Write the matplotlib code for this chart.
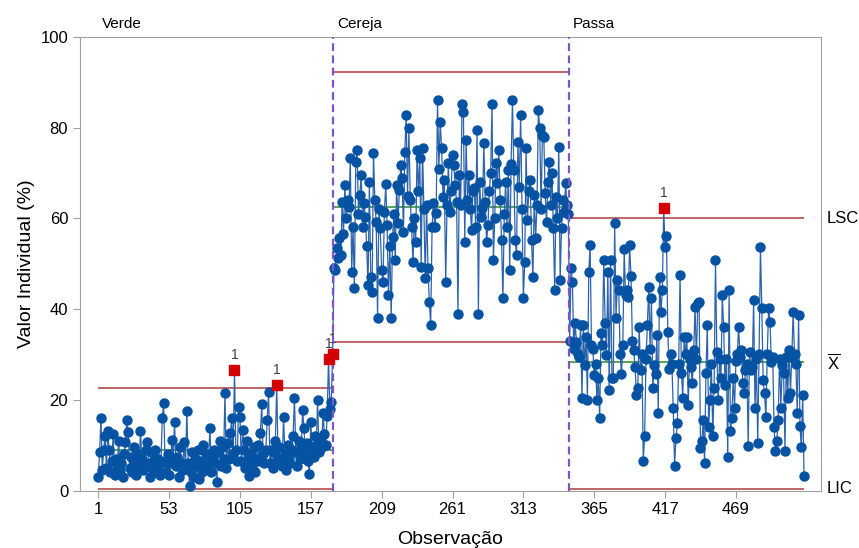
import matplotlib
matplotlib.use("Agg")
import matplotlib.pyplot as plt
import numpy as np

stages = ["Verde", "Cereja", "Passa"]
center = [9.0, 62.5, 28.3]
lsc = [22.7, 92.3, 60.0]
lic = [0.4, 32.7, 0.4]

verde = [
    3.0, 8.5, 16.0, 4.5, 9.0, 12.0, 5.0, 13.2, 9.0, 4.0, 6.5, 12.5, 3.5, 7.0, 5.5, 11.0, 4.5, 6.0, 3.0, 8.0,
    10.8, 15.6, 13.0, 5.0, 7.5, 4.0, 9.5, 6.0, 3.5, 8.0, 5.0, 13.2, 7.0, 4.5, 6.0, 9.0, 10.8, 5.5, 3.0, 8.5,
    6.5, 4.0, 9.0, 5.0, 7.0, 3.5, 6.0, 16.0, 19.2, 6.5, 4.0, 8.0, 3.5, 6.0, 11.2, 7.0, 15.0, 5.5, 7.5, 3.0,
    9.5, 6.0, 4.5, 10.6, 5.0, 17.6, 6.0, 1.1, 4.0, 8.5, 3.0, 7.0, 5.5, 9.0, 2.5, 6.5, 4.0, 10.0, 5.5, 8.0,
    6.0, 7.5, 13.7, 4.0, 7.5, 9.0, 6.0, 1.8, 8.5, 11.0, 5.5, 9.5, 7.0, 21.6, 5.0, 10.5, 7.0, 12.6, 15.9, 8.0,
    26.5, 9.0, 6.5, 18.5, 16.1, 6.5, 13.4, 9.0, 5.0, 11.0, 7.0, 3.3, 8.0, 5.5, 9.5, 4.0, 7.0, 10.0, 6.5, 12.6,
    19.0, 8.0, 6.0, 9.0, 15.5, 21.8, 6.0, 9.0, 5.0, 8.5, 11.0, 23.3, 7.0, 9.5, 6.0, 5.5, 16.3, 8.0, 4.5, 10.0,
    7.5, 6.0, 9.0, 12.0, 20.5, 8.5, 5.5, 11.0, 7.0, 9.5, 17.7, 13.7, 8.0, 10.5, 6.5, 3.7, 15.0, 9.0, 7.5, 12.0,
    10.0, 19.9, 8.5, 11.5, 9.5, 17.2, 12.5, 10.0, 16.5, 29.0, 18.0, 19.5, 30.0,
]

cereja = [
    49.0, 48.6, 53.4, 51.2, 55.6, 52.0, 63.6, 56.5, 67.3, 60.0, 64.0, 62.5, 73.3, 48.1, 58.0, 44.6, 72.4, 75.0, 61.0, 65.1,
    69.5, 58.0, 63.4, 60.3, 54.0, 45.3, 68.0, 47.0, 43.7, 74.4, 64.0, 59.2, 38.0, 62.0, 57.8, 48.6, 45.9, 61.4, 67.5, 58.5,
    43.0, 54.0, 38.0, 56.0, 61.0, 50.8, 67.3, 59.0, 66.2, 71.7, 68.9, 57.0, 74.6, 82.8, 65.0, 79.9, 64.0, 58.0, 50.3, 60.0,
    54.7, 75.0, 66.0, 73.3, 49.2, 75.5, 62.0, 46.8, 63.0, 49.0, 41.5, 36.4, 58.0, 63.4, 58.0, 61.1, 86.1, 71.0, 81.2, 75.5,
    64.7, 68.4, 45.9, 63.0, 72.2, 61.4, 66.0, 74.0, 71.7, 67.3, 63.6, 39.0, 69.5, 63.0, 85.2, 83.4, 54.7, 77.3, 64.0, 69.5,
    62.0, 57.4, 66.0, 66.7, 58.0, 79.5, 39.0, 68.0, 60.3, 62.3, 76.6, 63.6, 54.7, 58.5, 66.0, 70.0, 85.2, 50.8, 60.0, 72.2,
    67.8, 75.0, 64.0, 55.2, 42.4, 61.0, 68.0, 58.0, 70.6, 48.6, 72.0, 86.1, 70.6, 55.2, 51.9, 76.8, 67.0, 82.8, 62.0, 42.4,
    50.3, 75.5, 59.6, 66.0, 68.4, 55.2, 47.0, 65.1, 55.6, 63.0, 83.9, 79.9, 62.0, 78.4, 78.0, 65.6, 59.2, 68.0, 72.4, 63.0,
    70.0, 57.8, 44.2, 64.7, 60.0, 75.7, 46.4, 57.8, 64.0, 61.4, 67.8, 63.0, 61.0,
]

passa = [
    33.0, 49.0, 45.9, 31.3, 36.9, 32.7, 30.0, 29.4, 36.4, 20.5, 36.4, 27.6, 33.8, 19.9, 48.1, 54.1, 32.0, 31.3, 25.4, 28.0,
    19.9, 24.9, 15.9, 34.7, 32.0, 50.8, 36.9, 29.8, 48.1, 22.1, 50.8, 24.9, 24.7, 58.9, 38.0, 46.4, 44.2, 30.2, 25.8, 32.0,
    53.2, 43.0, 44.2, 42.6, 54.1, 47.2, 33.0, 30.9, 27.2, 21.0, 22.7, 36.0, 26.5, 30.0, 6.6, 12.1, 29.0, 36.4, 44.8, 31.3,
    42.4, 22.5, 27.6, 25.8, 34.2, 17.2, 47.0, 39.3, 44.2, 62.3, 53.6, 56.1, 34.9, 26.9, 30.2, 28.0, 18.1, 5.5, 11.5, 14.8,
    28.0, 47.5, 26.0, 20.5, 33.8, 30.0, 33.8, 18.8, 29.0, 27.2, 23.6, 30.9, 40.4, 29.0, 41.3, 41.5, 9.3, 11.0, 15.5, 6.0,
    26.0, 36.4, 13.9, 19.9, 28.0, 12.1, 22.7, 50.8, 30.5, 19.9, 29.0, 24.9, 43.0, 36.0, 23.2, 29.0, 7.3, 44.2, 13.2, 15.9,
    24.7, 18.3, 28.5, 30.2, 36.0, 29.4, 31.0, 23.8, 21.4, 26.5, 28.0, 9.9, 30.5, 26.5, 27.2, 41.9, 18.3, 29.0, 10.4, 30.2,
    53.6, 40.2, 24.3, 21.4, 16.1, 30.0, 40.2, 37.1, 28.3, 29.4, 13.9, 8.8, 11.0, 15.5, 29.0, 18.3, 27.6, 26.0, 8.8, 29.5,
    20.5, 31.0, 21.6, 29.4, 39.3, 30.0, 28.0, 17.0, 38.6, 14.3, 9.5, 21.0, 3.3,
]

xticks = [1, 53, 105, 157, 209, 261, 313, 365, 417, 469]


def plot_chart(groups):
    plt.rcParams['font.family'] = ['Liberation Sans', 'DejaVu Sans']
    plt.rcParams['mathtext.fontset'] = 'custom'
    plt.rcParams['mathtext.rm'] = 'Liberation Sans'

    fig = plt.figure(figsize=(8.59, 5.48), dpi=100)
    ax = fig.add_axes([0.0931, 0.1049, 0.8626, 0.8276])

    values = np.concatenate(groups)
    obs = np.arange(1, len(values) + 1)

    ax.plot(obs, values, '-', color='#2c63ad', lw=0.9, zorder=2)
    ax.plot(obs, values, 'o', color='#0652a3', ms=6.5, mec='#0652a3', zorder=3)

    start = 1
    for k, g in enumerate(groups):
        end = start + len(g) - 1
        x0 = start - 0.5 if k > 0 else start
        x1 = end + 0.5 if k < len(groups) - 1 else end

        ax.hlines([lsc[k], lic[k]], x0, x1, color='#b23b3b', lw=1.1, zorder=1)
        ax.hlines(center[k], x0, x1, color='#2a8a2a', lw=1.1, zorder=1)
        if k > 0:
            ax.axvline(x0, color='#7b55c9', ls=(0, (3.5, 2)), lw=1.6, zorder=4)

        ax.annotate(stages[k], xy=(x0, 1), xycoords=ax.get_xaxis_transform(),
                    xytext=(3, 4), textcoords='offset points',
                    ha='left', va='bottom', fontsize=11)

        # test 1: points beyond the limits
        seg = np.array(g)
        out = np.where((seg > lsc[k]) | (seg < lic[k]))[0]
        for j in out:
            ax.plot(start + j, seg[j], 's', color='#d20000', ms=7.5, zorder=5)
            ax.annotate('1', xy=(start + j, seg[j]), xytext=(0, 6),
                        textcoords='offset points', ha='center', va='bottom',
                        fontsize=10, color='#404040')
        start = end + 1

    trans = ax.get_yaxis_transform()
    ax.text(1.008, lsc[-1], 'LSC', transform=trans, va='center', ha='left', fontsize=12)
    ax.text(1.008, center[-1], r'$\overline{\mathrm{X}}$', transform=trans,
            va='center', ha='left', fontsize=12)
    ax.text(1.008, lic[-1], 'LIC', transform=trans, va='center', ha='left', fontsize=12)

    ax.set_xlim(-12.4, 531.4)
    ax.set_ylim(0, 100)
    ax.set_xticks(xticks)
    ax.set_yticks([0, 20, 40, 60, 80, 100])
    ax.tick_params(labelsize=12, color='#a0a0a0', length=5)
    for s in ax.spines.values():
        s.set_color('#a0a0a0')

    ax.set_xlabel('Observação', fontsize=14, labelpad=10)
    ax.set_ylabel('Valor Individual (%)', fontsize=14)

    fig.savefig('out.png', dpi=100)


if __name__ == '__main__':
    plot_chart([verde, cereja, passa])
